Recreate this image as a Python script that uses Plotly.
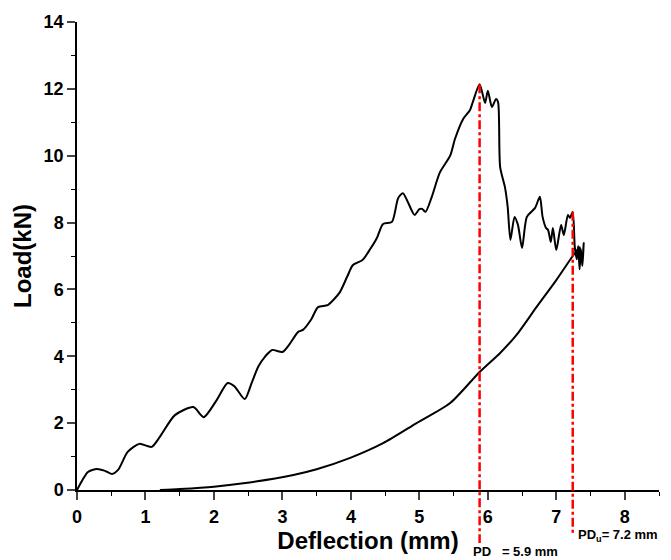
import plotly.graph_objects as go

# Loading path (deflection mm, load kN)
load_x = [0, 0.08, 0.16, 0.29, 0.4, 0.51, 0.6, 0.74, 0.91, 1.09, 1.21, 1.43, 1.7, 1.85, 2.04, 2.2, 2.3,
          2.45, 2.55, 2.65, 2.75, 2.85, 3.0, 3.1, 3.23, 3.3, 3.42, 3.52, 3.66, 3.75, 3.84, 3.95, 4.03,
          4.17, 4.28, 4.38, 4.47, 4.6, 4.69, 4.76, 4.82, 4.93, 5.0, 5.04, 5.09, 5.18, 5.3, 5.45, 5.52,
          5.64, 5.74, 5.78, 5.88, 5.96, 6.0, 6.06, 6.12, 6.15, 6.18, 6.25, 6.29, 6.33, 6.39, 6.44, 6.5,
          6.57, 6.69, 6.76, 6.8, 6.85, 6.88, 6.92, 6.95, 7.0, 7.07, 7.11, 7.17, 7.2, 7.24, 7.27, 7.3,
          7.32, 7.34, 7.36, 7.38, 7.4, 7.38, 7.34]
load_y = [0, 0.3, 0.54, 0.63, 0.58, 0.48, 0.6, 1.14, 1.38, 1.29, 1.59, 2.24, 2.48, 2.18, 2.69, 3.2, 3.1,
          2.72, 3.2, 3.7, 4.0, 4.19, 4.13, 4.35, 4.73, 4.79, 5.1, 5.47, 5.53, 5.7, 5.92, 6.4, 6.73,
          6.88, 7.2, 7.54, 7.96, 8.02, 8.73, 8.88, 8.67, 8.23, 8.4, 8.41, 8.32, 8.76, 9.5, 10.0, 10.5,
          11.1, 11.37, 11.6, 12.14, 11.58, 11.94, 11.46, 11.7, 11.6, 9.66, 9.06, 8.47, 7.48, 8.17, 7.93, 7.24,
          8.17, 8.44, 8.77, 8.17, 7.84, 7.78, 7.42, 7.84, 7.18, 7.93, 7.63, 8.23, 8.14, 8.32, 7.27, 6.9,
          7.3, 6.6, 7.2, 6.7, 7.39, 6.9, 7.27]

# Unloading path
unload_x = [7.34, 7.23, 7.0, 6.71, 6.42, 6.18, 5.88, 5.45, 4.96, 4.47, 3.99, 3.5, 3.16, 2.43, 2.0, 1.5, 1.21]
unload_y = [7.27, 6.97, 6.28, 5.47, 4.64, 4.1, 3.53, 2.6, 2.0, 1.4, 0.96, 0.62, 0.45, 0.2, 0.1, 0.03, 0.0]

# Marked deflections
pd_x = [5.88, 7.24]
pd_top = [12.14, 8.32]
pd_labels = ["PD\u00a0\u00a0\u00a0= 5.9 mm", "PD<sub>u</sub>= 7.2 mm"]

y_max = 14
x_ticks = list(range(0, 9))
y_ticks = list(range(0, 15, 2))

FONT = "Liberation Sans, Arial, sans-serif"

fig = go.Figure()
fig.add_trace(go.Scatter(x=load_x + unload_x, y=load_y + unload_y, mode="lines",
                         line=dict(color="black", width=2, shape="spline", smoothing=0.7),
                         showlegend=False))

bottoms = [-0.113, -0.092]
for xv, top, bot in zip(pd_x, pd_top, bottoms):
    fig.add_shape(type="line", xref="x", yref="paper", x0=xv, x1=xv,
                  y0=top / y_max, y1=bot, line=dict(color="rgb(255,0,0)", width=2.5, dash="dashdot"))

fig.add_annotation(x=pd_x[0], xref="x", y=-0.131, yref="paper", text=pd_labels[0],
                   showarrow=False, xanchor="left", xshift=-9, yanchor="middle",
                   font=dict(family=FONT, size=13, color="black", weight="bold"))
fig.add_annotation(x=pd_x[1], xref="x", y=-0.098, yref="paper", text=pd_labels[1],
                   showarrow=False, xanchor="left", xshift=3, yanchor="middle",
                   font=dict(family=FONT, size=13, color="black", weight="bold"))

fig.update_layout(
    width=663, height=552,
    margin=dict(l=69, r=12, t=14, b=70),
    plot_bgcolor="white", paper_bgcolor="white",
    font=dict(family=FONT, color="black"),
)
fig.update_xaxes(range=[0, 8.5], tickvals=x_ticks, ticks="outside", ticklen=8, tickwidth=1.5,
                 showline=True, linecolor="black", linewidth=1.5, showgrid=False, zeroline=False,
                 automargin=False, ticklabelstandoff=2,
                 tickfont=dict(family=FONT, size=18, color="black", weight="bold"),
                 minor=dict(dtick=0.5, ticks="outside", ticklen=4, tickwidth=1.2, tickcolor="black", showgrid=False),
                 title=dict(text="Deflection (mm)", font=dict(family=FONT, size=24, color="black", weight="bold"),
                            standoff=4))
fig.update_yaxes(range=[0, 14], tickvals=y_ticks, ticks="outside", ticklen=8, tickwidth=1.5,
                 showline=True, linecolor="black", linewidth=1.5, showgrid=False, zeroline=False,
                 automargin=False,
                 tickfont=dict(family=FONT, size=18, color="black", weight="bold"),
                 minor=dict(dtick=1, ticks="outside", ticklen=4, tickwidth=1.2, tickcolor="black", showgrid=False),
                 title=dict(text="Load(kN)", font=dict(family=FONT, size=24, color="black", weight="bold"),
                            standoff=5))

fig.write_html("out.html")
